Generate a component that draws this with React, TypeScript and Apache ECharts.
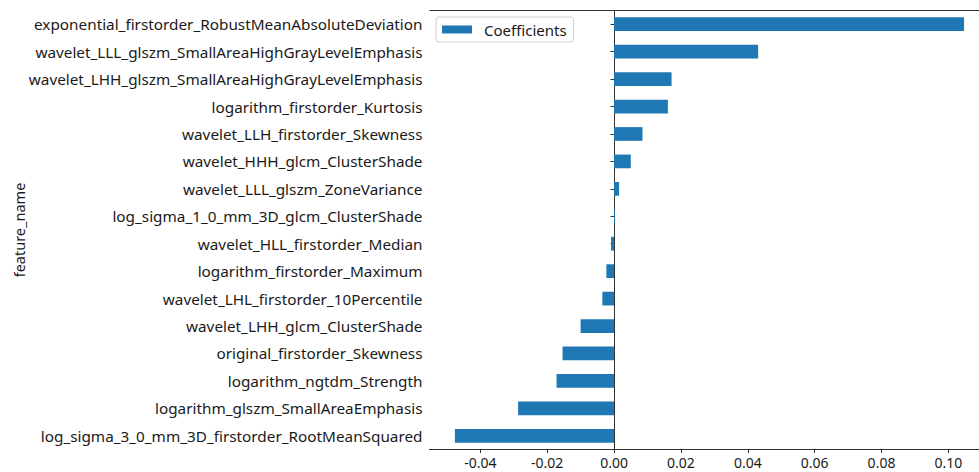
import React, { useEffect, useRef } from "react";
import * as echarts from "echarts";

const features = [
  "exponential_firstorder_RobustMeanAbsoluteDeviation",
  "wavelet_LLL_glszm_SmallAreaHighGrayLevelEmphasis",
  "wavelet_LHH_glszm_SmallAreaHighGrayLevelEmphasis",
  "logarithm_firstorder_Kurtosis",
  "wavelet_LLH_firstorder_Skewness",
  "wavelet_HHH_glcm_ClusterShade",
  "wavelet_LLL_glszm_ZoneVariance",
  "log_sigma_1_0_mm_3D_glcm_ClusterShade",
  "wavelet_HLL_firstorder_Median",
  "logarithm_firstorder_Maximum",
  "wavelet_LHL_firstorder_10Percentile",
  "wavelet_LHH_glcm_ClusterShade",
  "original_firstorder_Skewness",
  "logarithm_ngtdm_Strength",
  "logarithm_glszm_SmallAreaEmphasis",
  "log_sigma_3_0_mm_3D_firstorder_RootMeanSquared",
];

const coefficients = [
  0.1047, 0.0431, 0.0172, 0.0161, 0.0085, 0.005, 0.0015, 0.0003,
  -0.0009, -0.0023, -0.0035, -0.01, -0.0154, -0.0172, -0.0287, -0.0476,
];

const xTicks = [-0.04, -0.02, 0.0, 0.02, 0.04, 0.06, 0.08, 0.1];

const yAxisTitle = "feature_name";

const FONT = "'Noto Sans', 'Open Sans', sans-serif";

export default function App() {
  const ref = useRef<HTMLDivElement>(null);
  useEffect(() => {
    if (!ref.current) return;
    const chart = echarts.init(ref.current, undefined, { renderer: "svg" });
    chart.setOption({
      animation: false,
      textStyle: { fontFamily: FONT },
      grid: {
        left: 429.5,
        top: 10.5,
        width: 560,
        height: 439,
        containLabel: false,
        outerBoundsMode: "none",
      },
      legend: {
        left: 436,
        top: 17,
        data: ["Coefficients"],
        icon: "rect",
        itemWidth: 30,
        itemHeight: 8,
        itemGap: 0,
        padding: [5, 7, 5, 6],
        backgroundColor: "#ffffff",
        borderColor: "#d0d0d0",
        borderWidth: 1,
        borderRadius: 3,
        textStyle: {
          fontFamily: FONT,
          fontSize: 15,
          color: "#1a1a1a",
          padding: [0, 0, 0, 7],
        },
      },
      xAxis: {
        type: "value",
        min: -0.0552,
        max: 0.1123,
        splitLine: { show: false },
        axisLine: { show: true, onZero: false, lineStyle: { color: "#333", width: 1 } },
        axisTick: {
          show: true,
          length: 3.5,
          lineStyle: { color: "#333" },
          customValues: xTicks,
        },
        axisLabel: {
          fontFamily: FONT,
          fontSize: 14,
          color: "#1a1a1a",
          margin: 6,
          customValues: xTicks,
          formatter: (v: number) => v.toFixed(2),
        },
      },
      yAxis: {
        type: "category",
        inverse: true,
        data: features,
        axisLine: { show: true, lineStyle: { color: "#333", width: 1 } },
        axisTick: { show: true, length: 3.5, alignWithLabel: true, lineStyle: { color: "#333" } },
        axisLabel: { fontFamily: FONT, fontSize: 15.3, color: "#1a1a1a", margin: 7 },
      },
      series: [
        {
          name: "Coefficients",
          type: "bar",
          data: coefficients,
          barWidth: "50%",
          itemStyle: { color: "#1f77b4" },
        },
      ],
      graphic: [
        {
          type: "line",
          shape: { x1: 429.5, y1: 10.5, x2: 979, y2: 10.5 },
          style: { stroke: "#333", lineWidth: 1 },
          z: 100,
        },
        {
          type: "text",
          x: 19,
          y: 230,
          rotation: Math.PI / 2,
          style: {
            text: yAxisTitle,
            fontFamily: FONT,
            fontSize: 14.5,
            fill: "#1a1a1a",
            align: "center",
            verticalAlign: "middle",
          },
        },
      ],
    });
    return () => chart.dispose();
  }, []);
  return (
    <div
      ref={ref}
      style={{ position: "absolute", left: 0, top: 0, width: 979, height: 472 }}
    />
  );
}
